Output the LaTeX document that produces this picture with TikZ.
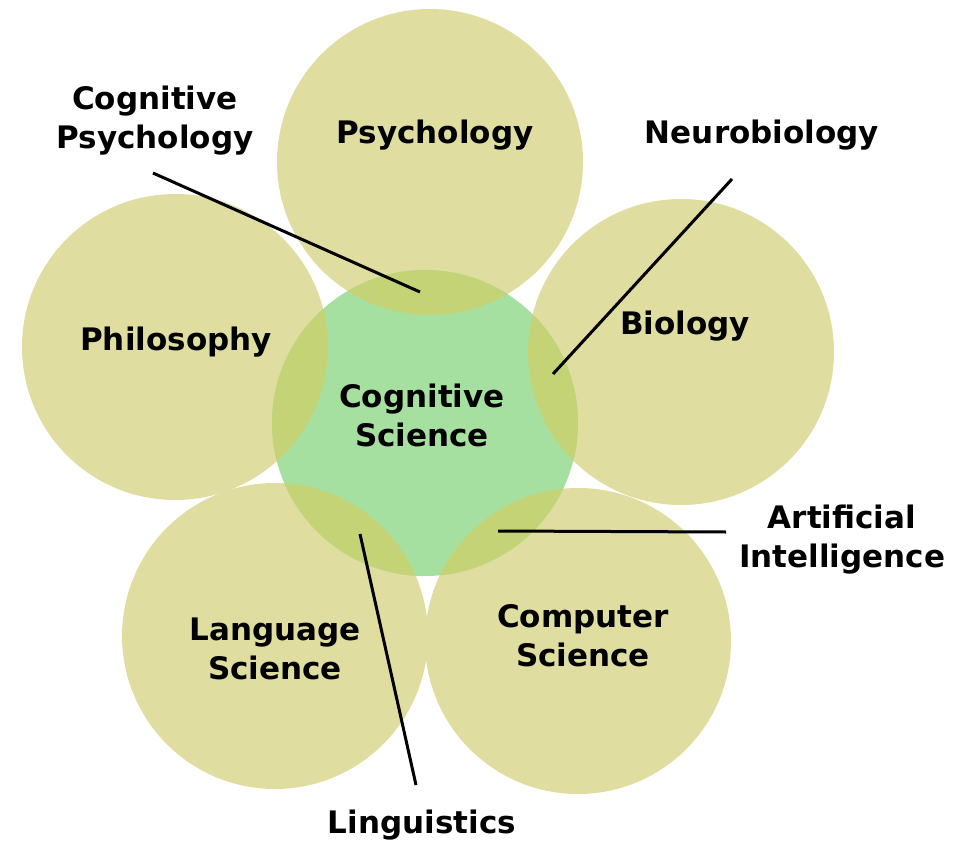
\documentclass[tikz,border=0pt]{standalone}
\usepackage{fontspec}
\setmainfont{DejaVu Sans}
\definecolor{olive}{RGB}{223,221,160}
\definecolor{cgreen}{RGB}{166,224,160}
\definecolor{ovl}{RGB}{196,211,118}
\tikzset{
  lbl/.style={font=\fontsize{31}{39}\selectfont\bfseries, align=center, inner sep=0pt, text=black},
  conn/.style={line width=3pt, black},
}
\begin{document}
\begin{tikzpicture}[x=1pt,y=-1pt]
\useasboundingbox (0,0) rectangle (979,842);
% circle centres
\coordinate (cpsy) at (430,162);
\coordinate (cphi) at (175,347);
\coordinate (cbio) at (681,352);
\coordinate (clan) at (275,636);
\coordinate (ccom) at (578,641);
\coordinate (ccog) at (425,423);
\def\R{153}
\foreach \c in {cpsy,cphi,cbio,clan,ccom} \fill[olive] (\c) circle (\R);
\fill[cgreen] (ccog) circle (\R);
\begin{scope}
  \clip (ccog) circle (\R);
  \foreach \c in {cpsy,cphi,cbio,clan,ccom} \fill[ovl] (\c) circle (\R);
\end{scope}
% labels
\node[lbl] (tpsy) at (435,135) {Psychology};
\node[lbl] (tphi) at (176,342) {Philosophy};
\node[lbl] (tbio) at (685,326) {Biology};
\node[lbl] (tcog) at (422,415) {Cognitive\\Science};
\node[lbl] (tlan) at (275,649) {Language\\Science};
\node[lbl] (tcom) at (583,636) {Computer\\Science};
\node[lbl] (tcp) at (155,121) {Cognitive\\Psychology};
\node[lbl] (tneu) at (762,135) {Neurobiology};
\node[lbl] (tai) at (842,540) {Artificial\\Intelligence};
\node[lbl] (tlin) at (422,825) {Linguistics};
% connector ends
\coordinate (cpA) at (153,173);
\coordinate (cpB) at (420,292);
\coordinate (neA) at (732,179);
\coordinate (neB) at (553,374);
\coordinate (aiA) at (726,532);
\coordinate (aiB) at (498,531);
\coordinate (liA) at (416,785);
\coordinate (liB) at (360,534);
\draw[conn] (cpA) -- (cpB);
\draw[conn] (neA) -- (neB);
\draw[conn] (aiA) -- (aiB);
\draw[conn] (liA) -- (liB);
\end{tikzpicture}
\end{document}
